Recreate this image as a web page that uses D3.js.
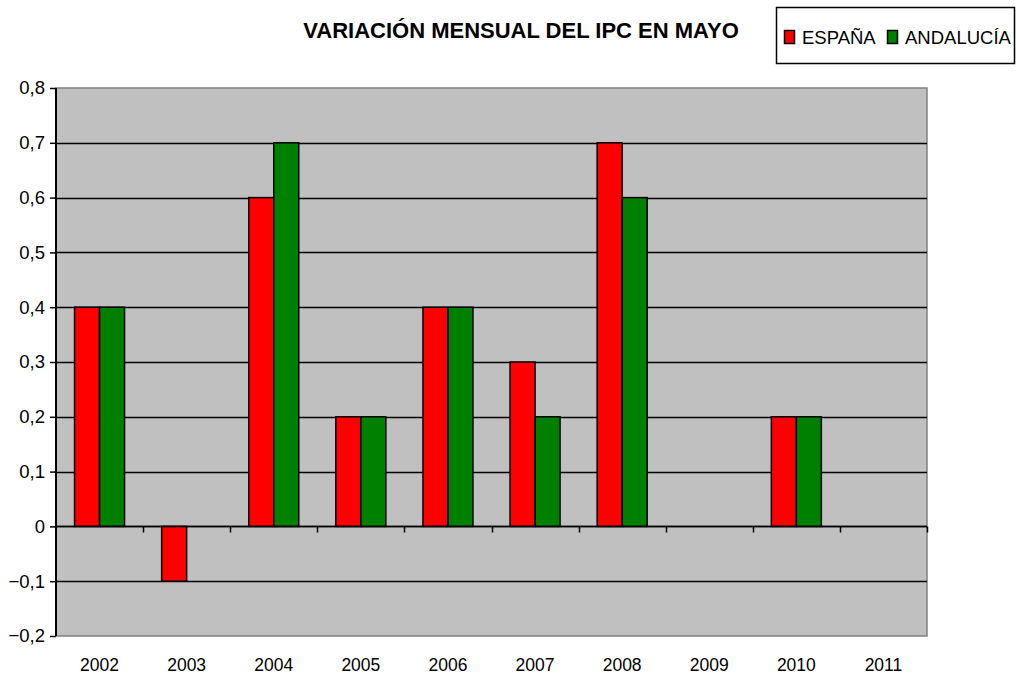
<!DOCTYPE html>
<html lang="es">
<head>
<meta charset="UTF-8">
<script src="https://cdnjs.cloudflare.com/ajax/libs/d3/7.8.5/d3.min.js"></script>
<style>
  body { margin: 0; background: #fff; }
  text { font-family: "Liberation Sans", Arial, sans-serif; }
</style>
</head>
<body>
<svg id="chart" width="1017" height="675"></svg>
<script>
// datos
var years = ["2002","2003","2004","2005","2006","2007","2008","2009","2010","2011"];
var espana = [0.4, -0.1, 0.6, 0.2, 0.4, 0.3, 0.7, 0, 0.2, 0];
var andalucia = [0.4, 0, 0.7, 0.2, 0.4, 0.2, 0.6, 0, 0.2, 0];
var seriesNames = ["ESPAÑA", "ANDALUCÍA"];
var colors = ["#ff0000", "#008000"];
var yTicks = [-0.2, -0.1, 0, 0.1, 0.2, 0.3, 0.4, 0.5, 0.6, 0.7, 0.8];

var pLeft = 56, pRight = 927, pTop = 88, pBottom = 636;

var svg = d3.select("#chart");

var x = d3.scaleBand().domain(years).range([pLeft, pRight]);
var x1 = d3.scaleBand().domain(seriesNames).range([0, 50]);
var y = d3.scaleLinear().domain([-0.2, 0.8]).range([pBottom, pTop]);

// fondo
svg.append("rect")
  .attr("x", pLeft).attr("y", pTop)
  .attr("width", pRight - pLeft).attr("height", pBottom - pTop)
  .attr("fill", "#c0c0c0")
  .attr("stroke", "#808080").attr("stroke-width", 1.5);

// rejilla
svg.append("g").selectAll("line")
  .data(yTicks.filter(d => d > -0.2 && d < 0.8))
  .enter().append("line")
  .attr("x1", pLeft).attr("x2", pRight)
  .attr("y1", d => Math.round(y(d)) + 0.5).attr("y2", d => Math.round(y(d)) + 0.5)
  .attr("stroke", "#000").attr("stroke-width", 1.3);

// barras
var rows = years.map((yr, i) => ({year: yr, vals: [espana[i], andalucia[i]]}));
var g = svg.append("g").selectAll("g")
  .data(rows).enter().append("g")
  .attr("transform", d => "translate(" + (x(d.year) + (x.bandwidth() - 50) / 2) + ",0)");

g.selectAll("rect")
  .data(d => d.vals.map((v, j) => ({name: seriesNames[j], v: v, c: colors[j]})).filter(d => d.v !== 0))
  .enter().append("rect")
  .attr("x", d => x1(d.name))
  .attr("width", x1.bandwidth())
  .attr("y", d => y(Math.max(0, d.v)))
  .attr("height", d => Math.abs(y(d.v) - y(0)))
  .attr("fill", d => d.c)
  .attr("stroke", "#000").attr("stroke-width", 1.5);

// eje X en cero
var xg = svg.append("g")
  .attr("transform", "translate(0," + (Math.round(y(0)) + 0.5) + ")");
xg.append("line").attr("x1", pLeft).attr("x2", pRight)
  .attr("stroke", "#000").attr("stroke-width", 1.5);
xg.selectAll(".sep")
  .data(years)
  .enter().append("line")
  .attr("x1", d => Math.round(x(d) + x.step()) + 0.5)
  .attr("x2", d => Math.round(x(d) + x.step()) + 0.5)
  .attr("y1", 0).attr("y2", 6)
  .attr("stroke", "#000").attr("stroke-width", 1.5);

// etiquetas X
svg.append("g").selectAll("text")
  .data(years).enter().append("text")
  .attr("x", d => x(d) + x.bandwidth() / 2)
  .attr("y", 671)
  .attr("text-anchor", "middle")
  .attr("font-size", 17.5)
  .text(d => d);

// eje Y
var yAxis = d3.axisLeft(y).tickValues(yTicks).tickSize(6).tickPadding(5)
  .tickFormat(d => d3.format(".1~f")(d).replace(".", ","));
var yg = svg.append("g")
  .attr("transform", "translate(" + pLeft + ",0)")
  .call(yAxis);
yg.select(".domain").attr("stroke-width", 2).attr("d", "M0," + pTop + "V" + pBottom);
yg.selectAll(".tick line").attr("stroke-width", 1.5);
yg.selectAll(".tick text").attr("font-size", 18.5).attr("fill", "#000")
  .style("font-family", "Liberation Sans, Arial, sans-serif");

// titulo
svg.append("text")
  .attr("x", 521).attr("y", 38)
  .attr("text-anchor", "middle")
  .attr("font-size", 22).attr("font-weight", "bold")
  .text("VARIACIÓN MENSUAL DEL IPC EN MAYO");

// leyenda
var lg = svg.append("g");
lg.append("rect").attr("x", 776.5).attr("y", 7.5).attr("width", 238).attr("height", 56)
  .attr("fill", "#fff").attr("stroke", "#000").attr("stroke-width", 1.5);
var legX = [784, 887];
seriesNames.forEach((n, i) => {
  lg.append("rect").attr("x", legX[i] + 0.5).attr("y", 30.5).attr("width", 10).attr("height", 13)
    .attr("fill", colors[i]).attr("stroke", "#000").attr("stroke-width", 1.5);
  lg.append("text").attr("x", legX[i] + 18).attr("y", 44)
    .attr("font-size", 18.5).text(n);
});
</script>
</body>
</html>
